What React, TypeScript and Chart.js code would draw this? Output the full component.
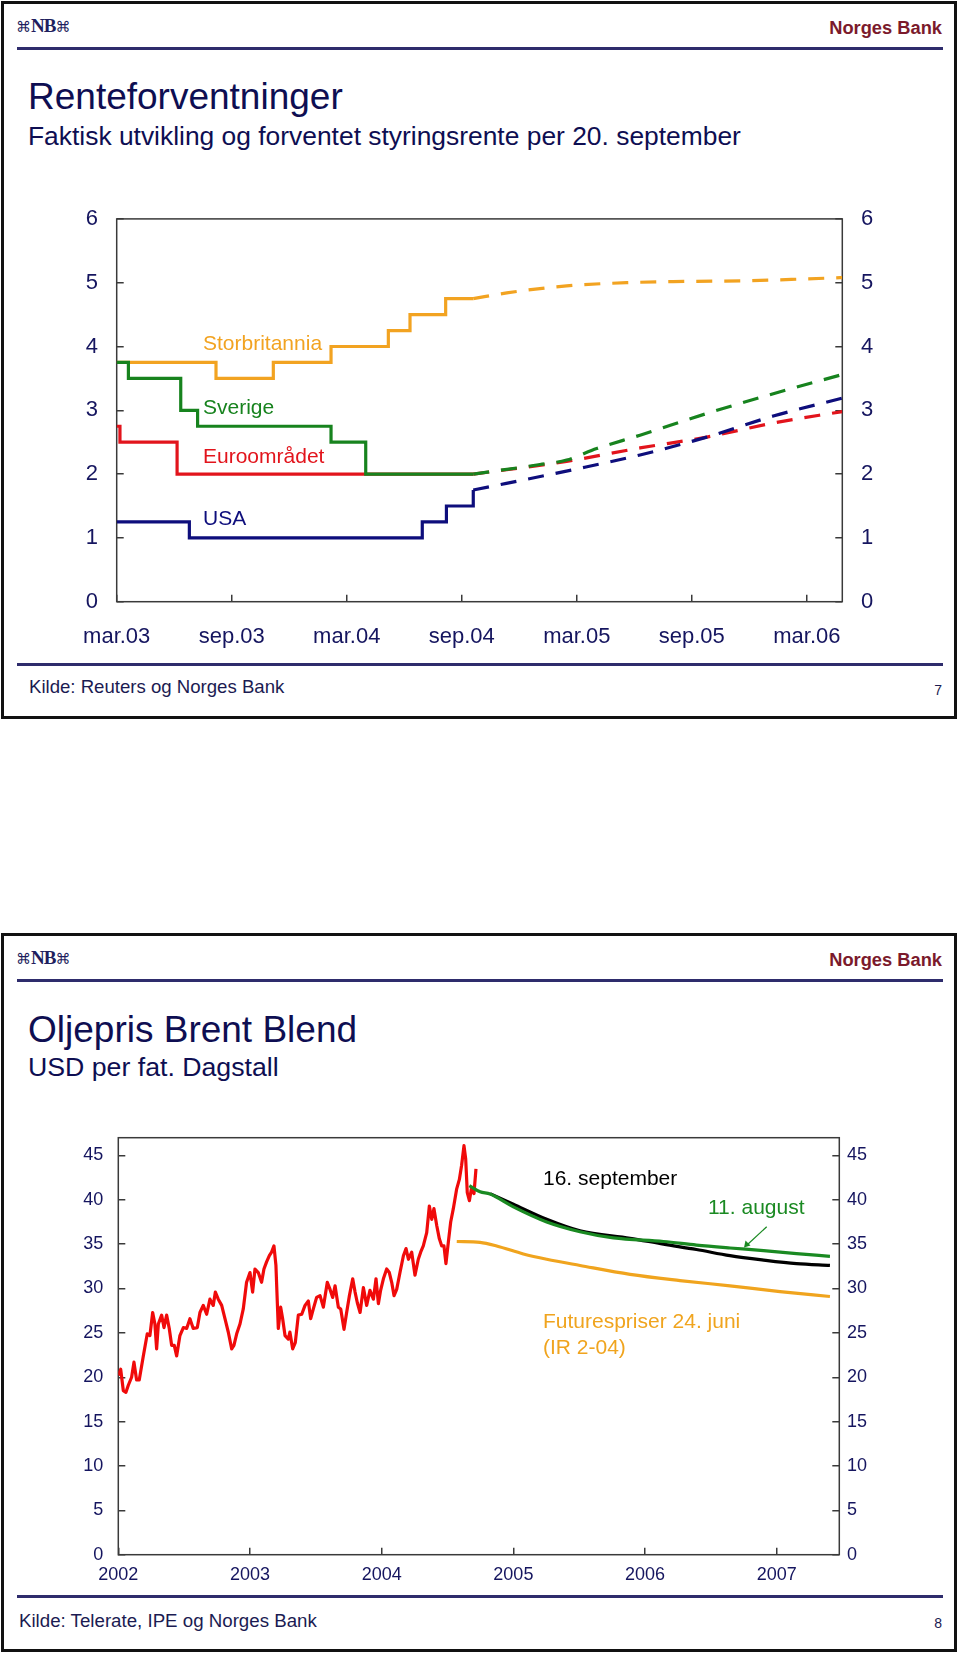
import React, { useEffect, useRef } from "react";
import { Chart, registerables } from "chart.js";

Chart.register(...registerables);

const FONT = "'Liberation Sans', Arial, Helvetica, sans-serif";
const NAVY_TXT = "#15155f";
const AXIS = "#3a3a3a";

// ---------- Chart 1: Renteforventninger (x = months since 1 Mar 2003) ----------
const rateTickMonths = [0, 6, 12, 18, 24, 30, 36];
const rateTickLabels = ["mar.03", "sep.03", "mar.04", "sep.04", "mar.05", "sep.05", "mar.06"];
const rateYTicks = [0, 1, 2, 3, 4, 5, 6];

const ukStepX = [0, 5.18, 8.17, 11.18, 14.17, 15.3, 17.16, 18.6];
const ukStepY = [3.75, 3.5, 3.75, 4.0, 4.25, 4.5, 4.75, 4.75];
const ukFwdX = [18.6, 20.35, 23.47, 26.6, 29.7, 32.86, 36.0, 37.85];
const ukFwdY = [4.75, 4.84, 4.95, 5.0, 5.02, 5.03, 5.06, 5.08];

const seStepX = [0, 0.61, 3.34, 4.22, 11.18, 12.99, 18.6];
const seStepY = [3.75, 3.5, 3.0, 2.75, 2.5, 2.0, 2.0];
const seFwdX = [18.6, 22.08, 23.47, 25.04, 27.3, 30.78, 34.25, 37.85];
const seFwdY = [2.0, 2.15, 2.22, 2.4, 2.61, 2.95, 3.26, 3.56];

const euStepX = [0, 0.17, 3.15, 18.6];
const euStepY = [2.75, 2.5, 2.0, 2.0];
const euFwdX = [18.6, 23.47, 27.3, 30.78, 34.25, 37.85];
const euFwdY = [2.0, 2.2, 2.41, 2.58, 2.8, 2.98];

const usStepX = [0, 3.79, 15.94, 17.2, 18.6];
const usStepY = [1.25, 1.0, 1.25, 1.5, 1.75];
const usFwdX = [18.6, 23.82, 27.3, 30.78, 34.25, 37.85];
const usFwdY = [1.75, 2.07, 2.3, 2.58, 2.91, 3.19];

// ---------- Chart 2: Oljepris Brent Blend (x = year) ----------
const oilYearTicks = [2002, 2003, 2004, 2005, 2006, 2007];
const oilYTicks = [0, 5, 10, 15, 20, 25, 30, 35, 40, 45];

const brentX = [
  2002.0, 2002.018, 2002.038, 2002.058, 2002.076, 2002.101, 2002.119, 2002.139, 2002.159, 2002.19,
  2002.22, 2002.24, 2002.261, 2002.278, 2002.291, 2002.304, 2002.329, 2002.347, 2002.367, 2002.387,
  2002.405, 2002.425, 2002.443, 2002.468, 2002.494, 2002.519, 2002.544, 2002.569, 2002.6, 2002.62,
  2002.645, 2002.671, 2002.696, 2002.721, 2002.737, 2002.759, 2002.785, 2002.81, 2002.835, 2002.861,
  2002.878, 2002.899, 2002.924, 2002.949, 2002.974, 2003.0, 2003.02, 2003.038, 2003.063, 2003.088,
  2003.106, 2003.126, 2003.147, 2003.164, 2003.182, 2003.197, 2003.215, 2003.233, 2003.248, 2003.266,
  2003.291, 2003.303, 2003.324, 2003.344, 2003.367, 2003.393, 2003.418, 2003.443, 2003.461, 2003.481,
  2003.506, 2003.532, 2003.557, 2003.587, 2003.608, 2003.628, 2003.646, 2003.671, 2003.689, 2003.714,
  2003.734, 2003.755, 2003.78, 2003.798, 2003.815, 2003.836, 2003.861, 2003.886, 2003.911, 2003.937,
  2003.957, 2003.975, 2003.992, 2004.013, 2004.038, 2004.058, 2004.076, 2004.094, 2004.114, 2004.139,
  2004.165, 2004.185, 2004.203, 2004.228, 2004.253, 2004.278, 2004.296, 2004.316, 2004.342, 2004.362,
  2004.38, 2004.397, 2004.418, 2004.438, 2004.456, 2004.473, 2004.488, 2004.506, 2004.524, 2004.544,
  2004.569, 2004.59, 2004.607, 2004.625, 2004.638, 2004.65, 2004.666, 2004.683, 2004.701, 2004.716,
];
const brentY = [
  20.2, 20.9, 18.5, 18.3, 19.1, 20.0, 21.7, 19.7, 19.7, 22.4,
  24.9, 24.7, 27.3, 26.0, 23.2, 26.0, 27.0, 25.6, 27.0, 25.5,
  23.6, 23.6, 22.4, 24.7, 25.6, 25.5, 26.6, 25.5, 25.6, 27.3,
  28.1, 27.1, 28.8, 28.1, 29.6, 28.8, 28.1, 26.6, 25.1, 23.2,
  23.6, 24.9, 26.0, 27.7, 30.7, 31.8, 29.6, 32.2, 31.8, 30.7,
  32.2, 33.0, 33.7, 34.1, 34.8, 32.6, 25.5, 27.9, 26.6, 24.7,
  24.3, 25.1, 23.2, 23.9, 27.0, 27.1, 28.1, 28.6, 26.6, 27.7,
  29.0, 29.2, 27.9, 30.7, 29.9, 29.0, 30.3, 27.9, 27.7, 25.4,
  27.3, 29.2, 31.1, 29.6, 28.4, 27.3, 30.1, 28.1, 29.8, 28.8,
  31.1, 28.3, 29.8, 31.1, 32.2, 31.8, 30.7, 29.2, 29.9, 31.8,
  33.7, 34.5, 33.3, 34.1, 31.5, 33.3, 34.1, 34.8, 36.3, 39.3,
  37.8, 39.0, 37.1, 35.6, 34.8, 34.8, 32.8, 35.2, 37.5, 39.0,
  41.2, 42.3, 43.9, 46.1, 44.6, 40.8, 39.9, 41.4, 40.7, 43.5,
];

const aug11X = [2004.666, 2004.747, 2004.823, 2005.0, 2005.253, 2005.506, 2005.76, 2006.14, 2006.39, 2006.645, 2006.9, 2007.15, 2007.404];
const aug11Y = [41.6, 40.9, 40.65, 39.2, 37.5, 36.4, 35.7, 35.3, 34.9, 34.57, 34.27, 33.93, 33.63];

const sep16X = [2004.823, 2005.0, 2005.253, 2005.506, 2005.886, 2006.14, 2006.39, 2006.645, 2006.9, 2007.15, 2007.404];
const sep16Y = [40.7, 39.5, 37.8, 36.5, 35.66, 35.0, 34.4, 33.7, 33.2, 32.8, 32.6];

const jun24X = [2004.57, 2004.747, 2004.873, 2005.076, 2005.253, 2005.506, 2005.886, 2006.265, 2006.645, 2007.025, 2007.404];
const jun24Y = [35.3, 35.2, 34.8, 33.9, 33.3, 32.6, 31.6, 30.9, 30.3, 29.65, 29.1];

// ---------- helpers ----------
const pts = (xs: number[], ys: number[]) => xs.map((x, i) => ({ x, y: ys[i] }));

const framePlugin = {
  id: "plotFrame",
  beforeDatasetsDraw(chart: any) {
    const { ctx, chartArea: a } = chart;
    ctx.save();
    ctx.strokeStyle = AXIS;
    ctx.lineWidth = 1.5;
    ctx.strokeRect(a.left, a.top, a.right - a.left, a.bottom - a.top);
    ctx.restore();
  },
};

const gridInward = { drawOnChartArea: false, drawTicks: true, tickLength: -7, color: AXIS, lineWidth: 1.5 };

function yAxis(position: "left" | "right", min: number, max: number, tickVals: number[], width: number, padding: number, size: number) {
  return {
    type: "linear",
    position,
    min,
    max,
    afterBuildTicks: (s: any) => {
      s.ticks = tickVals.map((v) => ({ value: v }));
    },
    afterFit: (s: any) => {
      s.width = width;
    },
    grid: gridInward,
    border: { display: false },
    ticks: { padding, color: NAVY_TXT, font: { family: FONT, size }, autoSkip: false },
  };
}

function lineDs(data: any[], color: string, opts: any = {}) {
  return {
    data,
    borderColor: color,
    backgroundColor: color,
    borderWidth: 3.2,
    pointRadius: 0,
    fill: false,
    yAxisID: "y",
    borderCapStyle: "butt",
    borderJoinStyle: "miter",
    ...opts,
  };
}

const C_OR = "#f2a321";
const C_GR = "#17831e";
const C_RD = "#e2141c";
const C_NV = "#0e0e7c";

const dash = { borderDash: [16, 12], cubicInterpolationMode: "monotone", tension: 0.4 };

function cfgRates(): any {
  return {
    type: "line",
    data: {
      datasets: [
        lineDs(pts(seStepX, seStepY), C_GR, { stepped: true }),
        lineDs(pts(seFwdX, seFwdY), C_GR, dash),
        lineDs(pts(usStepX, usStepY), C_NV, { stepped: true }),
        lineDs(pts(usFwdX, usFwdY), C_NV, dash),
        lineDs(pts(euStepX, euStepY), C_RD, { stepped: true }),
        lineDs(pts(euFwdX, euFwdY), C_RD, dash),
        lineDs(pts(ukStepX, ukStepY), C_OR, { stepped: true }),
        lineDs(pts(ukFwdX, ukFwdY), C_OR, dash),
      ],
    },
    options: {
      animation: false,
      responsive: false,
      events: [],
      layout: { padding: { top: 26, left: 0, right: 0, bottom: 0 } },
      plugins: { legend: { display: false }, tooltip: { enabled: false } },
      scales: {
        x: {
          type: "linear",
          position: "bottom",
          min: 0,
          max: 37.85,
          afterBuildTicks: (s: any) => {
            s.ticks = rateTickMonths.map((v) => ({ value: v }));
          },
          afterFit: (s: any) => {
            s.height = 58.3;
          },
          grid: gridInward,
          border: { display: false },
          ticks: {
            padding: 28.8,
            color: NAVY_TXT,
            font: { family: FONT, size: 22 },
            autoSkip: false,
            maxRotation: 0,
            callback: (_v: any, i: number) => rateTickLabels[i],
          },
        },
        y: yAxis("left", 0, 6, rateYTicks, 116.7, 25.7, 22),
        y2: yAxis("right", 0, 6, rateYTicks, 117.7, 25.7, 22),
      },
    },
    plugins: [framePlugin],
  };
}

function cfgOil(): any {
  return {
    type: "line",
    data: {
      datasets: [
        lineDs(pts(aug11X, aug11Y), "#1a8a22", { cubicInterpolationMode: "monotone", tension: 0.4 }),
        lineDs(pts(sep16X, sep16Y), "#000000", { cubicInterpolationMode: "monotone", tension: 0.4 }),
        lineDs(pts(jun24X, jun24Y), "#f0a41e", { cubicInterpolationMode: "monotone", tension: 0.4 }),
        lineDs(pts(brentX, brentY), "#f00a0a", { tension: 0, borderJoinStyle: "round", borderWidth: 3.2 }),
      ],
    },
    options: {
      animation: false,
      responsive: false,
      events: [],
      layout: { padding: { top: 37.7, left: 0, right: 0, bottom: 0 } },
      plugins: { legend: { display: false }, tooltip: { enabled: false } },
      scales: {
        x: {
          type: "linear",
          position: "bottom",
          min: 2002,
          max: 2007.475,
          afterBuildTicks: (s: any) => {
            s.ticks = oilYearTicks.map((v) => ({ value: v }));
          },
          afterFit: (s: any) => {
            s.height = 40.3;
          },
          grid: gridInward,
          border: { display: false },
          ticks: {
            padding: 17,
            color: NAVY_TXT,
            font: { family: FONT, size: 18 },
            autoSkip: false,
            maxRotation: 0,
            callback: (v: any) => String(v),
          },
        },
        y: yAxis("left", 0, 47, oilYTicks, 118.3, 22, 18),
        y2: yAxis("right", 0, 47, oilYTicks, 960 - 839.3, 14.7, 18),
      },
    },
    plugins: [framePlugin],
  };
}

// ---------- text helpers ----------
function Txt(props: { x: number; cy: number; size: number; color: string; bold?: boolean; right?: boolean; children: any }) {
  const { x, cy, size, color, bold, right, children } = props;
  const style: any = {
    position: "absolute",
    top: cy - 0.49 * size - (size * 0.15) / 2,
    fontFamily: FONT,
    fontSize: size,
    lineHeight: `${size * 1.15}px`,
    fontWeight: bold ? "bold" : "normal",
    color,
    whiteSpace: "nowrap",
    zIndex: 3,
  };
  if (right) style.right = 960 - x;
  else style.left = x;
  return <div style={style}>{children}</div>;
}

function Logo({ cy }: { cy: number }) {
  return (
    <div
      style={{
        position: "absolute",
        left: 16,
        top: cy - 11,
        height: 22,
        lineHeight: "22px",
        color: "#1f1f5e",
        whiteSpace: "nowrap",
        zIndex: 3,
      }}
    >
      <span style={{ fontFamily: "'DejaVu Sans', sans-serif", fontSize: 15 }}>⌘</span>
      <span style={{ fontFamily: "'Liberation Serif', serif", fontWeight: "bold", fontSize: 19, letterSpacing: -1 }}>NB</span>
      <span style={{ fontFamily: "'DejaVu Sans', sans-serif", fontSize: 15 }}>⌘</span>
    </div>
  );
}

function HLine({ y }: { y: number }) {
  return <div style={{ position: "absolute", left: 17, width: 926, top: y - 1.5, height: 3, background: "#2e2c6c", zIndex: 2 }} />;
}

function Frame({ top, bottom }: { top: number; bottom: number }) {
  return (
    <div
      style={{
        position: "absolute",
        left: 1,
        top,
        width: 957 - 1 - 6,
        height: bottom - top - 6,
        border: "3px solid #111",
        zIndex: 1,
      }}
    />
  );
}

export default function App() {
  const c1 = useRef<HTMLCanvasElement | null>(null);
  const c2 = useRef<HTMLCanvasElement | null>(null);

  useEffect(() => {
    document.body.style.margin = "0";
    const ch1 = new Chart(c1.current as HTMLCanvasElement, cfgRates());
    const ch2 = new Chart(c2.current as HTMLCanvasElement, cfgOil());
    return () => {
      ch1.destroy();
      ch2.destroy();
    };
  }, []);

  return (
    <div style={{ position: "absolute", left: 0, top: 0, width: 960, height: 1654, background: "#fff", overflow: "hidden" }}>
      {/* Slide 1 */}
      <Frame top={1} bottom={719} />
      <Logo cy={26} />
      <Txt x={942} cy={27} size={18.3} color="#7b1a2c" bold right>
        Norges Bank
      </Txt>
      <HLine y={48} />
      <Txt x={28} cy={96.7} size={37} color="#0e0e52">
        Renteforventninger
      </Txt>
      <Txt x={28} cy={135.5} size={26.4} color="#0e0e52">
        Faktisk utvikling og forventet styringsrente per 20. september
      </Txt>
      <canvas
        ref={c1}
        width={960}
        height={480}
        style={{ position: "absolute", left: 0, top: 180, width: 960, height: 480, zIndex: 2 }}
      />
      <Txt x={203} cy={342.7} size={21} color={C_OR}>
        Storbritannia
      </Txt>
      <Txt x={203} cy={406.7} size={21} color={C_GR}>
        Sverige
      </Txt>
      <Txt x={203} cy={455.7} size={21} color={C_RD}>
        Euroområdet
      </Txt>
      <Txt x={203} cy={518.3} size={21} color={C_NV}>
        USA
      </Txt>
      <HLine y={664} />
      <Txt x={29} cy={686.7} size={18.6} color="#1b1b52">
        Kilde: Reuters og Norges Bank
      </Txt>
      <Txt x={942} cy={690} size={14} color="#1b1b52" right>
        7
      </Txt>

      {/* Slide 2 */}
      <Frame top={933} bottom={1652} />
      <Logo cy={958} />
      <Txt x={942} cy={959} size={18.3} color="#7b1a2c" bold right>
        Norges Bank
      </Txt>
      <HLine y={980} />
      <Txt x={28} cy={1030} size={37} color="#0e0e52">
        Oljepris Brent Blend
      </Txt>
      <Txt x={28} cy={1067} size={26.7} color="#0e0e52">
        USD per fat. Dagstall
      </Txt>
      <canvas
        ref={c2}
        width={960}
        height={495}
        style={{ position: "absolute", left: 0, top: 1100, width: 960, height: 495, zIndex: 2 }}
      />
      <Txt x={543} cy={1177.7} size={21} color="#000">
        16. september
      </Txt>
      <Txt x={708} cy={1207.3} size={21} color="#1a8a22">
        11. august
      </Txt>
      <Txt x={543} cy={1321} size={21} color="#f0a41e">
        Futurespriser 24. juni
      </Txt>
      <Txt x={543} cy={1346.7} size={21} color="#f0a41e">
        (IR 2-04)
      </Txt>
      <svg style={{ position: "absolute", left: 0, top: 0, zIndex: 4 }} width={960} height={1654}>
        <line x1={766.7} y1={1226.7} x2={747} y2={1245} stroke="#1a8a22" strokeWidth={1.2} />
        <polygon points="744,1247.5 745.5,1240.5 750.5,1245.5" fill="#1a8a22" />
      </svg>
      <HLine y={1596.7} />
      <Txt x={19} cy={1620.7} size={18.7} color="#1b1b52">
        Kilde: Telerate, IPE og Norges Bank
      </Txt>
      <Txt x={942} cy={1622.7} size={14} color="#1b1b52" right>
        8
      </Txt>
    </div>
  );
}
